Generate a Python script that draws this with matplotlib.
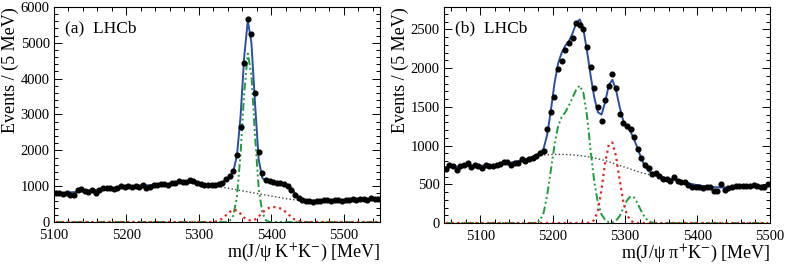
import numpy as np
import matplotlib
matplotlib.use("Agg")
import matplotlib.pyplot as plt
from matplotlib.ticker import MultipleLocator

plt.rcParams['font.family'] = ['Liberation Serif', 'DejaVu Serif']
plt.rcParams['mathtext.fontset'] = 'stix'

# ---------------- panel (a): J/psi K+ K- ----------------
mass_a = np.arange(5102.5, 5550, 5)   # bin centres, 5 MeV bins

data_a = [810, 800, 790, 810, 760, 740, 880, 920, 860, 850,
          880, 810, 900, 950, 960, 960, 920, 950, 1010, 970,
          1000, 990, 1010, 980, 1020, 960, 990, 1020, 1040, 1060,
          1070, 1030, 1080, 1090, 1140, 1130, 1120, 1160, 1150, 1090,
          1070, 1040, 1030, 1020, 1040, 1060, 1100, 1200, 1270, 1420,
          1880, 2650, 4440, 5670, 5250, 3600, 1960, 1380, 1170, 1150,
          1120, 1100, 1080, 1060, 1010, 890, 760, 660, 620, 600,
          580, 560, 600, 590, 610, 620, 600, 610, 620, 600,
          610, 620, 640, 620, 640, 630, 610, 680, 640, 650]

fit_a = [795, 800, 805, 815, 825, 835, 845, 855, 865, 875,
         885, 895, 905, 915, 925, 935, 945, 955, 965, 975,
         985, 990, 998, 1005, 1012, 1020, 1027, 1035, 1042, 1050,
         1058, 1066, 1074, 1082, 1090, 1097, 1100, 1098, 1090, 1075,
         1060, 1045, 1035, 1035, 1045, 1070, 1110, 1170, 1260, 1420,
         1850, 2950, 4600, 5620, 5000, 3300, 1750, 1230, 1140, 1120,
         1110, 1100, 1085, 1065, 1030, 940, 810, 700, 640, 615,
         605, 600, 600, 600, 602, 604, 606, 608, 610, 612,
         614, 616, 618, 621, 624, 627, 630, 633, 636, 640]

bkg_a = [795, 800, 805, 815, 825, 835, 845, 855, 865, 875,
         885, 895, 905, 915, 925, 935, 945, 955, 965, 975,
         985, 990, 998, 1005, 1012, 1020, 1027, 1035, 1042, 1050,
         1058, 1066, 1074, 1082, 1090, 1095, 1096, 1094, 1090, 1083,
         1075, 1058, 1040, 1022, 1004, 986, 968, 950, 932, 914,
         896, 878, 860, 842, 824, 806, 788, 770, 752, 734,
         716, 698, 680, 662, 645, 630, 617, 607, 602, 600,
         598, 597, 597, 598, 600, 602, 604, 606, 608, 610,
         612, 614, 616, 619, 622, 625, 628, 631, 634, 638]

sig_a = [0] * 48 + [30, 180, 700, 1900, 3600, 4700, 4100, 2400, 950, 260, 50] + [0] * 31

refl_a = [0] * 44 + [10, 40, 100, 190, 280, 340, 320, 230, 120, 55,
                      40, 70, 150, 260, 350, 400, 420, 410, 380, 320,
                      230, 140, 65, 25, 5] + [0] * 21

# ---------------- panel (b): J/psi pi+ K- ----------------
mass_b = np.arange(5052.5, 5500, 5)

data_b = [700, 745, 740, 690, 735, 755, 780, 725, 755, 740,
          705, 745, 735, 730, 745, 760, 790, 785, 755, 770,
          780, 825, 800, 830, 845, 865, 900, 925, 1220, 1430,
          1630, 1990, 2090, 2240, 2320, 2390, 2580, 2560, 2510, 2270,
          2020, 1750, 1500, 1320, 1590, 1770, 1930, 1750, 1410, 1290,
          1250, 1220, 1110, 950, 845, 745, 705, 630, 640, 605,
          570, 570, 545, 590, 545, 530, 530, 490, 470, 460,
          470, 450, 460, 465, 415, 415, 510, 425, 450, 470,
          475, 480, 480, 480, 475, 485, 480, 470, 465, 510]

fit_b = [720, 722, 724, 726, 728, 730, 732, 734, 736, 738,
         740, 743, 746, 750, 754, 759, 765, 772, 780, 790,
         800, 812, 825, 840, 857, 877, 905, 960, 1140, 1450,
         1800, 2060, 2200, 2290, 2350, 2450, 2580, 2630, 2500, 2220,
         1900, 1620, 1430, 1400, 1560, 1780, 1850, 1720, 1500, 1320,
         1240, 1180, 1080, 960, 830, 730, 670, 640, 620, 605,
         592, 580, 568, 556, 545, 534, 523, 512, 502, 493,
         485, 478, 472, 467, 463, 460, 459, 459, 460, 462,
         464, 466, 468, 470, 472, 474, 476, 478, 480, 482]

bkg_b = [720, 722, 724, 726, 728, 730, 732, 734, 736, 738,
         740, 743, 746, 750, 754, 759, 765, 772, 780, 790,
         800, 812, 825, 840, 857, 870, 878, 880, 882, 884,
         885, 886, 886, 885, 883, 880, 876, 871, 865, 858,
         850, 840, 830, 818, 805, 791, 776, 760, 744, 728,
         712, 696, 680, 665, 650, 637, 626, 617, 608, 598,
         588, 578, 567, 556, 545, 534, 523, 512, 502, 493,
         485, 478, 472, 467, 463, 460, 459, 459, 460, 462,
         464, 466, 468, 470, 472, 474, 476, 478, 480, 482]

sig_b = [0] * 26 + [30, 130, 360, 680, 1000, 1250, 1370, 1430, 1520, 1620,
                    1720, 1775, 1680, 1380, 930, 530, 260, 110, 40, 10,
                    5, 30, 90, 190, 290, 345, 330, 250, 150, 70,
                    25, 5] + [0] * 32

refl_b = [0] * 40 + [5, 40, 160, 430, 780, 1010, 1040, 860, 560, 280,
                     110, 30, 5] + [0] * 37

panels = [
    (mass_a, data_a, fit_a, bkg_a, sig_a, refl_a, (5100, 5550), (0, 6000), 1000, 200,
     '(a)  LHCb', r'm(J/ψ K$^{+}$K$^{-}$) [MeV]', [0.0688, 0.1654, 0.4153, 0.8083]),
    (mass_b, data_b, fit_b, bkg_b, sig_b, refl_b, (5050, 5500), (0, 2790), 500, 100,
     '(b)  LHCb', r'm(J/ψ π$^{+}$K$^{-}$) [MeV]', [0.5656, 0.1617, 0.4152, 0.8120]),
]

fig = plt.figure(figsize=(7.85, 2.66), dpi=100)

for mass, data, fit, bkg, sig, refl, xl, yl, ymaj, ymin, tag, xlab, rect in panels:
    ax = fig.add_axes(rect)
    ax.plot(mass, bkg, ':', color='#444444', lw=1.0, zorder=2)
    ax.plot(mass, sig, color='#1a9e3a', lw=1.4, dashes=[4, 1.5, 1, 1.5, 1, 1.5], zorder=3)
    ax.plot(mass, refl, ':', color='#e8201a', lw=1.6, zorder=3)
    ax.plot(mass, fit, '-', color='#2b4fa5', lw=1.4, zorder=4)
    ax.plot(mass, data, 'o', color='black', ms=3.4, zorder=5)

    ax.set_xlim(*xl)
    ax.set_ylim(*yl)
    ax.xaxis.set_major_locator(MultipleLocator(100))
    ax.xaxis.set_minor_locator(MultipleLocator(20))
    ax.yaxis.set_major_locator(MultipleLocator(ymaj))
    ax.yaxis.set_minor_locator(MultipleLocator(ymin))
    ax.tick_params(which='both', direction='in', top=True, right=True, labelsize=10.5)
    ax.tick_params(axis='x', pad=5)
    ax.tick_params(axis='y', pad=3)
    ax.tick_params(which='major', length=6, width=0.7)
    ax.tick_params(which='minor', length=3, width=0.7)
    for s in ax.spines.values():
        s.set_linewidth(0.8)

    ax.set_xlabel(xlab, fontsize=13, loc='right', labelpad=0)
    ax.set_ylabel('Events / (5 MeV)', fontsize=13, loc='top', labelpad=1)
    ax.text(0.035, 0.90, tag, transform=ax.transAxes, fontsize=12.5, va='center', ha='left')

fig.savefig('out.png', dpi=100)
